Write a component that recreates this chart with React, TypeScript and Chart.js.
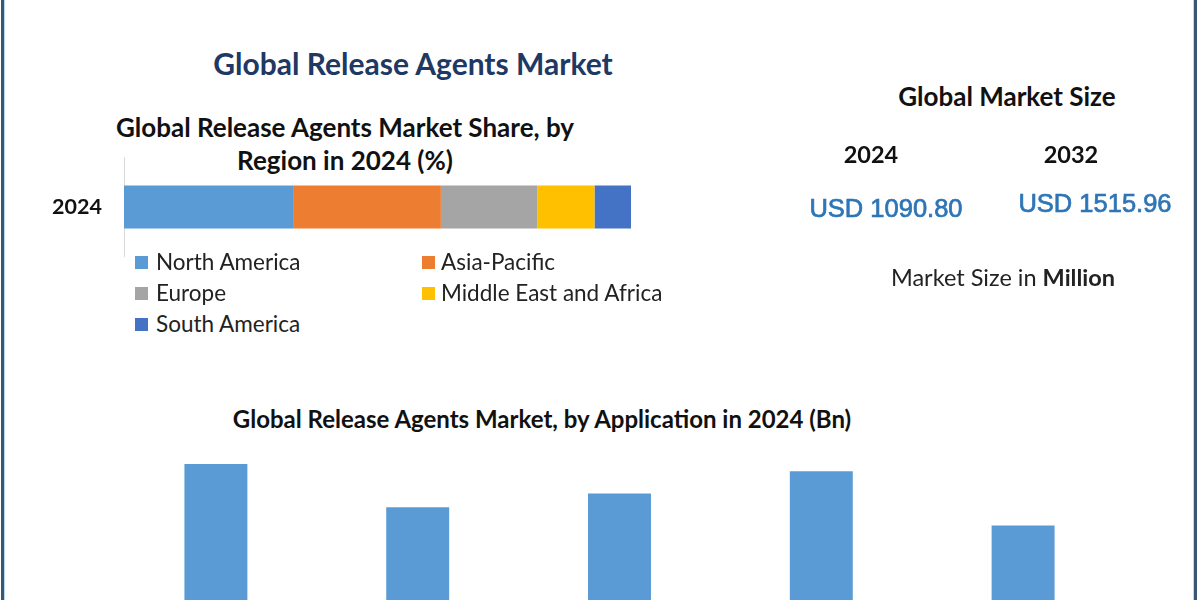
import React, { useEffect, useRef } from "react";
import { Chart, registerables } from "chart.js";

Chart.register(...registerables);

// ---- data ----
const regionYear = ["2024"];
const regionNames = ["North America", "Asia-Pacific", "Europe", "Middle East and Africa", "South America"];
const regionShares = [33.5, 29, 19, 11.3, 7.2];
const regionColors = ["#5b9bd5", "#ed7d31", "#a5a5a5", "#ffc000", "#4472c4"];

const applicationNames = ["Concrete", "Rubber", "Plastics", "Food", "Others"];
const applicationValues = [0.27, 0.216, 0.233, 0.261, 0.193];
const applicationColor = "#5b9bd5";

const marketYears = ["2024", "2032"];
const marketValues = ["USD 1090.80", "USD 1515.96"];

const FONT = "Lato, 'Open Sans', sans-serif";

type LabelProps = {
  x: number;
  y: number;
  size: number;
  weight?: number | string;
  color?: string;
  family?: string;
  stroke?: number;
  children: React.ReactNode;
};

function Label({ x, y, size, weight = "normal", color = "#111", family = FONT, stroke = 0, children }: LabelProps) {
  const lh = Math.round(size * 1.3);
  const style: any = {
    position: "absolute",
    left: x - 400,
    width: 800,
    top: y - lh / 2,
    height: lh,
    lineHeight: lh + "px",
    textAlign: "center",
    fontFamily: family,
    fontSize: size,
    fontWeight: weight as any,
    color,
    whiteSpace: "nowrap",
  };
  if (stroke) {
    style.WebkitTextStroke = stroke + "px " + color;
  }
  return <div style={style}>{children}</div>;
}

const TICK_SIZE = 21.5;
const TICK_PAD = 22;
const EDGE = TICK_PAD + (TICK_SIZE * 1.2) / 2; // vertical padding chart.js reserves for the tick label
const AREA_TOP = 158;
const AREA_H = 98;

function RegionChart() {
  const ref = useRef<HTMLCanvasElement>(null);
  useEffect(() => {
    if (!ref.current) return;
    const chart = new Chart(ref.current, {
      type: "bar",
      data: {
        labels: regionYear,
        datasets: regionNames.map((n, i) => ({
          label: n,
          data: [regionShares[i]],
          backgroundColor: regionColors[i],
          borderWidth: 0,
          barPercentage: 0.44,
          categoryPercentage: 1,
        })),
      },
      options: {
        indexAxis: "y",
        responsive: false,
        animation: false,
        layout: { padding: { top: 0, bottom: 0, left: 0, right: 9 } },
        plugins: { legend: { display: false }, tooltip: { enabled: false } },
        scales: {
          x: { stacked: true, display: false, min: 0, max: 100 },
          y: {
            stacked: true,
            grid: { display: false, drawTicks: false },
            border: { display: true, color: "#d9d9d9", width: 1 },
            ticks: {
              padding: TICK_PAD,
              color: "#111",
              font: { family: FONT, weight: "bold", size: TICK_SIZE, lineHeight: 1.2 },
            },
            afterFit: (s: any) => {
              s.width = 124;
            },
          },
        },
      } as any,
    });
    return () => chart.destroy();
  }, []);
  const top = Math.round(AREA_TOP - EDGE);
  const h = Math.round(AREA_H + 2 * EDGE);
  return (
    <canvas
      ref={ref}
      width={640}
      height={h}
      style={{ position: "absolute", left: 0, top, width: 640, height: h }}
    />
  );
}

function ApplicationChart() {
  const ref = useRef<HTMLCanvasElement>(null);
  useEffect(() => {
    if (!ref.current) return;
    const chart = new Chart(ref.current, {
      type: "bar",
      data: {
        labels: applicationNames,
        datasets: [
          {
            label: "Application",
            data: applicationValues,
            backgroundColor: applicationColor,
            borderWidth: 0,
            barPercentage: 0.312,
            categoryPercentage: 1,
          },
        ],
      },
      options: {
        responsive: false,
        animation: false,
        layout: { padding: 0 },
        plugins: { legend: { display: false }, tooltip: { enabled: false } },
        scales: {
          x: { display: false },
          y: { display: false, min: 0, max: 0.3 },
        },
      } as any,
    });
    return () => chart.destroy();
  }, []);
  return (
    <canvas
      ref={ref}
      width={1009}
      height={240}
      style={{ position: "absolute", left: 115, top: 440, width: 1009, height: 240 }}
    />
  );
}

export default function App() {
  useEffect(() => {
    document.body.style.margin = "0";
  }, []);
  return (
    <div
      style={{
        position: "fixed",
        left: 0,
        top: 0,
        width: 1200,
        height: 600,
        overflow: "hidden",
        background: "#ffffff",
      }}
    >
      {/* frame */}
      <div style={{ position: "absolute", left: 1, top: 0, width: 3, height: 600, background: "#3a5670" }} />
      <div style={{ position: "absolute", left: 4, top: 0, width: 1, height: 600, background: "#b8d9ee" }} />
      <div style={{ position: "absolute", left: 1193, top: 0, width: 1, height: 600, background: "#b8d9ee" }} />
      <div style={{ position: "absolute", left: 1194, top: 0, width: 3, height: 600, background: "#3a5670" }} />

      <Label x={413} y={63} size={30} weight="bold" color="#203864">
        Global Release Agents Market
      </Label>
      <Label x={345} y={127} size={26} weight="bold">
        Global Release Agents Market Share, by
      </Label>
      <Label x={345} y={160} size={26} weight="bold">
        Region in 2024 (%)
      </Label>

      <RegionChart />

      {/* legend */}
      {regionNames.map((n, i) => {
        const col = i % 2;
        const row = Math.floor(i / 2);
        const left = col === 0 ? 135 : 422;
        const cy = 262 + row * 31;
        return (
          <div key={n} style={{ position: "absolute", left, top: cy - 15, height: 30, display: "flex", alignItems: "center" }}>
            <div style={{ width: 13, height: 13, background: regionColors[i], marginRight: col === 0 ? 8 : 6 }} />
            <span style={{ fontFamily: FONT, fontSize: 22.5, color: "#222", lineHeight: "30px", whiteSpace: "nowrap" }}>{n}</span>
          </div>
        );
      })}

      <Label x={1007} y={96} size={26} weight="bold">
        Global Market Size
      </Label>
      <Label x={871} y={154} size={23.5} weight="bold">
        {marketYears[0]}
      </Label>
      <Label x={1071} y={154} size={23.5} weight="bold">
        {marketYears[1]}
      </Label>
      <Label x={886} y={208} size={25.5} stroke={0.7} color="#2e75b6" family="'Liberation Sans', Arial, sans-serif">
        {marketValues[0]}
      </Label>
      <Label x={1095} y={203} size={25.5} stroke={0.7} color="#2e75b6" family="'Liberation Sans', Arial, sans-serif">
        {marketValues[1]}
      </Label>
      <Label x={1003} y={277} size={23.5} color="#222">
        Market Size in <b>Million</b>
      </Label>

      <Label x={542} y={418} size={24} weight="bold">
        Global Release Agents Market, by Application in 2024 (Bn)
      </Label>

      <ApplicationChart />
    </div>
  );
}
